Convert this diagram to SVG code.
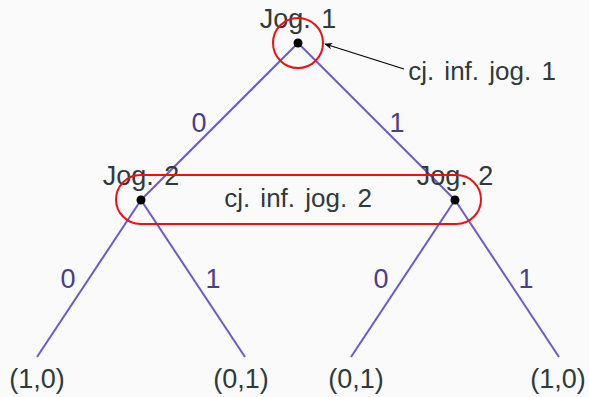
<svg xmlns="http://www.w3.org/2000/svg" width="589" height="397" viewBox="0 0 589 397">
<defs>
<style>
.t{font-family:"Liberation Sans",Arial,sans-serif;fill:#2e3b3b;font-size:27px;text-anchor:middle;word-spacing:3px}
.e{font-family:"Liberation Sans",Arial,sans-serif;fill:#4a3d8f;font-size:27px;text-anchor:middle}
.l{stroke:#6a5acd;stroke-width:2;fill:none}
.r{stroke:#ee1111;stroke-width:2;fill:none}
</style>
<marker id="ah" viewBox="0 0 10 10" refX="9" refY="5" markerWidth="8" markerHeight="8" orient="auto-start-reverse" markerUnits="userSpaceOnUse">
<path d="M0,1 L10,5 L0,9 L3,5 z" fill="#000"/>
</marker>
</defs>
<rect width="589" height="397" fill="#fafafa"/>
<g id="connectors">
<line class="l" x1="298" y1="43" x2="141" y2="200"/>
<line class="l" x1="298" y1="43" x2="455" y2="200"/>
<line class="l" x1="141" y1="200" x2="37" y2="357"/>
<line class="l" x1="141" y1="200" x2="245" y2="357"/>
<line class="l" x1="455" y1="200" x2="351" y2="357"/>
<line class="l" x1="455" y1="200" x2="559" y2="357"/>
<text class="e" x="199" y="132">0</text>
<text class="e" x="397" y="132">1</text>
<text class="e" x="68" y="288">0</text>
<text class="e" x="213" y="288">1</text>
<text class="e" x="381" y="288">0</text>
<text class="e" x="526" y="288">1</text>
<line x1="404" y1="69" x2="325" y2="44" stroke="#000" stroke-width="1.2" marker-end="url(#ah)"/>
</g>
<g id="root">
<text class="t" x="298" y="28">Jog. 1</text>
<circle cx="298" cy="43" r="4.5" fill="#000"/>
</g>
<g id="info1">
<circle class="r" cx="298" cy="43" r="25"/>
<text class="t" x="482" y="80" style="font-size:26px">cj. inf. jog. 1</text>
</g>
<g id="p2left">
<text class="t" x="141" y="185">Jog. 2</text>
<circle cx="141" cy="200" r="4.5" fill="#000"/>
</g>
<g id="p2right">
<text class="t" x="455" y="185">Jog. 2</text>
<circle cx="455" cy="200" r="4.5" fill="#000"/>
</g>
<g id="info2">
<rect class="r" x="116" y="175" width="365" height="49" rx="24.5"/>
<text class="t" x="298" y="207" style="font-size:26px">cj. inf. jog. 2</text>
</g>
<g id="leaf1"><text class="t" x="37" y="388">(1,0)</text></g>
<g id="leaf2"><text class="t" x="241" y="388">(0,1)</text></g>
<g id="leaf3"><text class="t" x="356" y="388">(0,1)</text></g>
<g id="leaf4"><text class="t" x="558" y="388">(1,0)</text></g>
</svg>
